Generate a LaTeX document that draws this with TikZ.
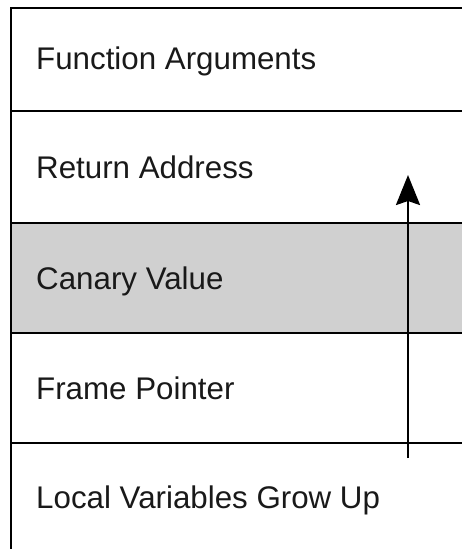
\documentclass[tikz,border=0pt]{standalone}
\usepackage{fontspec}
\setmainfont{Liberation Sans}
\usetikzlibrary{arrows.meta}
\definecolor{canary}{RGB}{208,208,208}
\tikzset{
  x=1pt, y=-1pt,
  row/.style={draw=black, line width=2.4pt, rectangle, anchor=north west, minimum width=470pt, inner sep=0pt},
  lbl/.style={anchor=base west, inner sep=0pt, font=\fontsize{31.3}{31.3}\selectfont, text=black!90},
  upArrow/.style={line width=2.5pt, -{Stealth[length=30pt,width=24pt,inset=4pt]}}
}
\begin{document}
\begin{tikzpicture}
\useasboundingbox (0,0) rectangle (462,549);
\node[row, minimum height=103pt] (r1) at (10,7) {};
\node[row, minimum height=112pt] (r2) at (10,110) {};
\node[row, minimum height=110pt, fill=canary] (r3) at (10,222) {};
\node[row, minimum height=110pt] (r4) at (10,332) {};
\node[row, minimum height=130pt] (r5) at (10,442) {};
\node[lbl] (t1) at (36,69.5) {Function Arguments};
\node[lbl] (t2) at (36,178) {Return Address};
\node[lbl] (t3) at (36,289) {Canary Value};
\node[lbl] (t4) at (36,399) {Frame Pointer};
\node[lbl] (t5) at (36,508) {Local Variables Grow Up};
\coordinate (a0) at (408,458);
\coordinate (a1) at (408,175);
\draw[upArrow] (a0) -- (a1);
\end{tikzpicture}
\end{document}
